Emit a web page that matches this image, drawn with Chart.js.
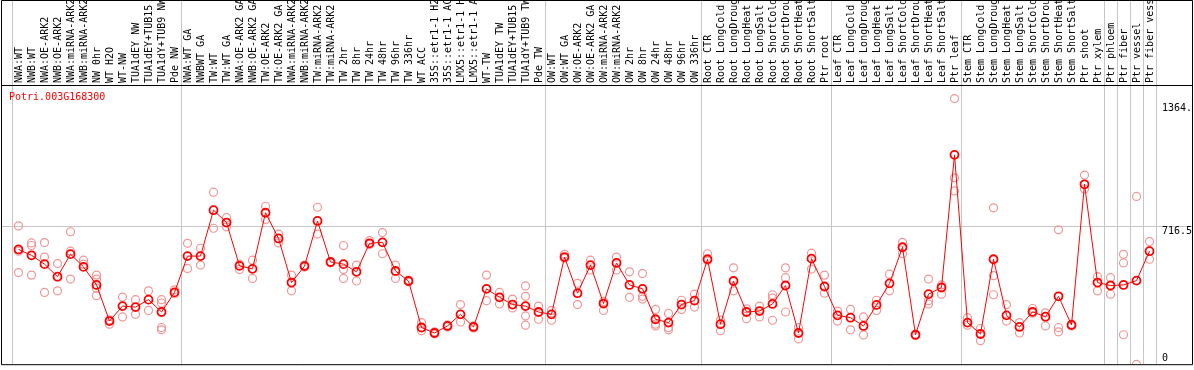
<!DOCTYPE html>
<html>
<head>
<meta charset="utf-8">
<script src="https://cdn.jsdelivr.net/npm/chart.js@4.4.1/dist/chart.umd.min.js"></script>
<style>
  html, body { margin: 0; padding: 0; background: #fff; }
  #wrap { width: 1194px; height: 370px; }
</style>
</head>
<body>
<div id="wrap"><canvas id="chart" width="1194" height="370"></canvas></div>
<script>
// sample names, in plot order
const categories = [
  "NWA:WT", "NWB:WT", "NWA:OE-ARK2", "NWB:OE-ARK2", "NWA:miRNA-ARK2", "NWB:miRNA-ARK2",
  "NW 0hr", "WT H2O", "WT-NW", "TUA1dEY NW", "TUA1dEY+TUB15 NW", "TUA1dY+TUB9 NW", "Pde NW",
  "NWA:WT GA", "NWBWT GA", "TW:WT", "TW:WT GA", "NWA:OE-ARK2 GA", "NWB:OE-ARK2 GA",
  "TW:OE-ARK2", "TW:OE-ARK2 GA", "NWA:miRNA-ARK2", "NWB:miRNA-ARK2", "TW:miRNA-ARK2",
  "TW:miRNA-ARK2", "TW 2hr", "TW 8hr", "TW 24hr", "TW 48hr", "TW 96hr", "TW 336hr",
  "WT ACC", "35S::etr1-1 H2O", "35S::etr1-1 ACC", "LMX5::etr1-1 H2O", "LMX5::etr1-1 ACC",
  "WT-TW", "TUA1dEY TW", "TUA1dEY+TUB15 TW", "TUA1dY+TUB9 TW", "Pde TW",
  "OW:WT", "OW:WT GA", "OW:OE-ARK2", "OW:OE-ARK2 GA", "OW:miRNA-ARK2", "OW:miRNA-ARK2",
  "OW 2hr", "OW 8hr", "OW 24hr", "OW 48hr", "OW 96hr", "OW 336hr",
  "Root CTR", "Root LongCold", "Root LongDrought", "Root LongHeat", "Root LongSalt",
  "Root ShortCold", "Root ShortDrought", "Root ShortHeat", "Root ShortSalt", "Ptr root",
  "Leaf CTR", "Leaf LongCold", "Leaf LongDrought", "Leaf LongHeat", "Leaf LongSalt",
  "Leaf ShortCold", "Leaf ShortDrought", "Leaf ShortHeat", "Leaf ShortSalt", "Ptr leaf",
  "Stem CTR", "Stem LongCold", "Stem LongDrought", "Stem LongHeat", "Stem LongSalt",
  "Stem ShortCold", "Stem ShortDrought", "Stem ShortHeat", "Stem ShortSalt", "Ptr shoot",
  "Ptr xylem", "Ptr phloem", "Ptr fiber", "Ptr vessel", "Ptr fiber vessel"
];

// mean expression per sample
const meanValues = [
  595, 565, 520, 456, 571, 506, 414, 230, 306, 301,
  339, 276, 376, 561, 561, 795, 732, 511, 496, 782,
  651, 426, 510, 740, 531, 520, 481, 626, 631, 485,
  434, 197, 169, 205, 264, 200, 394, 351, 314, 306,
  276, 264, 556, 372, 515, 319, 526, 414, 394, 239,
  222, 314, 334, 545, 214, 434, 276, 281, 317, 411,
  169, 548, 406, 259, 247, 205, 312, 422, 606, 160,
  367, 401, 1077, 222, 164, 545, 259, 200, 277, 252,
  356, 210, 927, 426, 411, 414, 436, 586
];

// replicates
const rep1 = [
  715, 628, 630, 523, 685, 540, 464, 214, 352, 339,
  384, 339, 389, 626, 601, 887, 757, 520, 540, 815,
  673, 464, 515, 810, 531, 615, 515, 640, 681, 515,
  439, 222, 175, 210, 314, 205, 464, 376, 342, 409,
  306, 284, 570, 422, 540, 284, 556, 481, 472, 289,
  269, 336, 367, 573, 235, 501, 292, 306, 364, 501,
  197, 576, 464, 281, 289, 251, 336, 469, 631, 160,
  444, 414, 1364, 247, 192, 807, 314, 222, 294, 272,
  695, 214, 974, 456, 451, 570, 865, 635
];
const rep2 = [
  586, 615, 556, 384, 586, 520, 444, 236, 251, 264,
  284, 322, 369, 498, 515, 703, 710, 493, 447, 748,
  628, 384, 505, 673, 526, 493, 434, 620, 573, 447,
  430, 180, 165, 200, 225, 195, 334, 317, 297, 356,
  239, 234, 550, 314, 490, 330, 490, 351, 356, 214,
  197, 289, 301, 540, 180, 384, 242, 251, 347, 451,
  139, 495, 372, 230, 185, 159, 284, 384, 573, 155,
  334, 367, 960, 209, 130, 461, 230, 169, 270, 205,
  197, 205, 903, 384, 367, 526, 9, 545
];
const rep3 = [
  477, 464, 376, 456, 444, null, 397, null, null, null,
  null, 197, null, null, null, null, null, null, null, null,
  null, null, null, null, null, 447, null, null, null, null,
  null, null, null, null, null, null, null, null, null, 256,
  null, null, null, null, null, null, null, null, 342, 205,
  185, null, null, null, null, null, null, null, 234, 276,
  null, null, null, null, null, null, null, null, null, null,
  317, null, 893, null, null, 364, null, null, null, null,
  175, null, null, null, null, 160, null, null
];
const rep4 = [
  null, null, null, null, null, null, 359, null, null, null,
  null, 185, null, null, null, null, null, null, null, null,
  null, null, null, null, null, null, null, null, null, null,
  null, null, null, null, null, null, null, null, null, 209,
  null, null, null, null, null, null, null, null, null, null,
  null, null, null, null, null, null, null, null, null, null,
  null, null, null, null, null, null, null, null, null, null,
  null, null, null, null, null, null, null, null, null, null,
  null, null, null, null, null, null, null, null
];

// first sample of each group (last entry = end)
const groupStarts = [0, 13, 41, 53, 63, 73, 84, 85, 86, 87, 88];
const yTickValues = [0, 716.5, 1364];
const yTickLabels = ["0", "716.5", "1364."];
const geneName = "Potri.003G168300";

const MONO = "10px 'DejaVu Sans Mono', monospace";

const framePlugin = {
  id: "frame",
  beforeDatasetsDraw(chart) {
    const { ctx, chartArea: a, scales: { x, y } } = chart;
    const x0 = x.getPixelForValue(0);
    const step = x.getPixelForValue(1) - x0;
    ctx.save();
    ctx.strokeStyle = "#c6c6c6";
    ctx.lineWidth = 1;
    groupStarts.forEach(i => {
      const px = Math.round(x0 + (i - 0.5) * step) + 0.5;
      ctx.beginPath();
      ctx.moveTo(px, 0);
      ctx.lineTo(px, a.bottom);
      ctx.stroke();
    });
    const gy = Math.round(y.getPixelForValue(716.5)) + 0.5;
    ctx.beginPath();
    ctx.moveTo(1, gy);
    ctx.lineTo(1193, gy);
    ctx.stroke();
    ctx.restore();
  },
  afterDraw(chart) {
    const { ctx, chartArea: a, scales: { x, y } } = chart;
    ctx.save();
    // sample labels, rotated
    ctx.fillStyle = "#000";
    ctx.font = MONO;
    ctx.textAlign = "left";
    ctx.textBaseline = "middle";
    categories.forEach((c, i) => {
      ctx.save();
      ctx.translate(x.getPixelForValue(i) + 0.5, a.top - 2);
      ctx.rotate(-Math.PI / 2);
      ctx.fillText(c, 0, 0);
      ctx.restore();
    });
    // value labels on the right
    ctx.textBaseline = "alphabetic";
    yTickValues.forEach((v, i) => {
      let by;
      if (v === 0) by = a.bottom - 3;
      else if (i === yTickValues.length - 1) by = y.getPixelForValue(v) + 12;
      else by = y.getPixelForValue(v) + 8;
      ctx.fillText(yTickLabels[i], 1162, by);
    });
    // gene id
    ctx.fillStyle = "#ff0000";
    ctx.textBaseline = "top";
    ctx.fillText(geneName, 9, a.top + 7);
    // black frame
    ctx.strokeStyle = "#000";
    ctx.lineWidth = 1;
    ctx.beginPath();
    ctx.rect(1.5, 0.5, 1191, a.bottom);
    ctx.moveTo(1, a.top + 0.5);
    ctx.lineTo(1193, a.top + 0.5);
    ctx.stroke();
    ctx.restore();
  }
};

function repSet(values) {
  return {
    data: values,
    showLine: false,
    pointRadius: 4,
    pointBorderWidth: 1.2,
    pointBorderColor: "#f09696",
    pointBackgroundColor: "rgba(0,0,0,0)",
    order: 2
  };
}

new Chart(document.getElementById("chart"), {
  type: "line",
  data: {
    labels: categories,
    datasets: [
      {
        data: meanValues,
        borderColor: "#ff0000",
        borderWidth: 1,
        tension: 0,
        fill: false,
        pointRadius: 4,
        pointBorderWidth: 1.8,
        pointBorderColor: "#ff0000",
        pointBackgroundColor: "rgba(0,0,0,0)",
        order: 1
      },
      repSet(rep1), repSet(rep2), repSet(rep3), repSet(rep4)
    ]
  },
  options: {
    responsive: false,
    animation: false,
    layout: { padding: { left: 12, right: 38, top: 85, bottom: 1 } },
    scales: {
      x: { type: "category", display: false, offset: true },
      y: { display: false, min: 10, max: 1433 }
    },
    plugins: {
      legend: { display: false },
      tooltip: { enabled: false }
    }
  },
  plugins: [framePlugin]
});
</script>
</body>
</html>
